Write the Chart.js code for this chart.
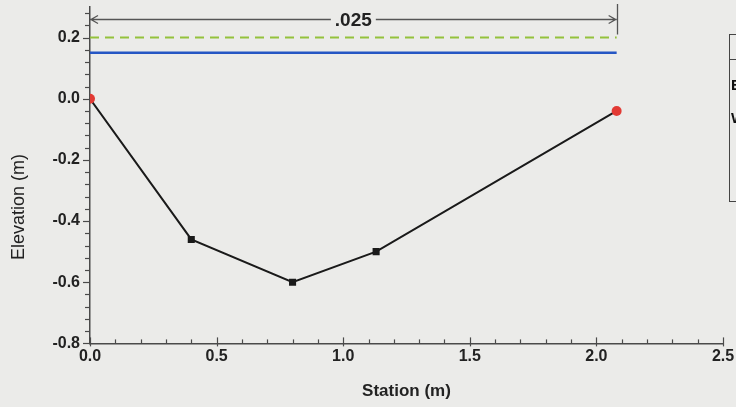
<!DOCTYPE html>
<html>
<head>
<meta charset="utf-8">
<script src="https://cdn.jsdelivr.net/npm/chart.js@4"></script>
<style>
  html, body { margin: 0; padding: 0; background: #ebebe9; overflow: hidden; }
  #wrap { position: relative; width: 736px; height: 407px; }
  #legendBox {
    position: absolute; left: 729px; top: 34px; width: 120px; height: 168px;
    border: 1px solid #444; box-sizing: border-box;
    font: bold 15px "Liberation Sans", Arial, sans-serif; color: #111;
  }
  #legendBox .head { height: 24px; border-bottom: 1px solid #444; }
  #legendBox .row { padding-left: 1px; height: 33px; line-height: 33px; }
</style>
</head>
<body>
<div id="wrap">
  <canvas id="chart" width="736" height="407"></canvas>
  <div id="legendBox">
    <div class="head"></div>
    <div class="row" style="margin-top:8px">EGL</div>
    <div class="row">WS</div>
  </div>
</div>
<script>
(function () {
    // cross-section profile
    const stations = [0, 0.4, 0.8, 1.13, 2.08];
    const elevations = [0, -0.46, -0.6, -0.5, -0.04];
    // energy grade line and water surface
    const eglLevel = 0.2;
    const wsLevel = 0.15;
    const bankStations = [0, 2.08];
    // Manning's n annotation
    const nLabel = '.025';
    const nLevel = 0.26;
    const xTicks = [0, 0.5, 1.0, 1.5, 2.0, 2.5];
    const yTicks = [-0.8, -0.6, -0.4, -0.2, 0.0, 0.2];

    const font = '"Liberation Sans", Arial, sans-serif';
    const axisColor = '#4a4a4a';

    const minorTicks = {
        id: 'minorTicks',
        afterDraw(chart) {
            const { ctx, scales: { x, y } } = chart;
            ctx.save();
            ctx.strokeStyle = axisColor;
            ctx.lineWidth = 1.2;
            // y ticks, outward
            for (let v = -0.8; v <= 0.31; v += 0.04) {
                const py = Math.round(y.getPixelForValue(v)) + 0.5;
                const major = Math.abs(Math.round(v * 5) - v * 5) < 1e-6;
                ctx.beginPath();
                ctx.moveTo(x.left - (major ? 7 : 5), py);
                ctx.lineTo(x.left, py);
                ctx.stroke();
            }
            // x ticks, inward
            for (let v = 0; v <= 2.501; v += 0.1) {
                const px = Math.round(x.getPixelForValue(v)) + 0.5;
                const major = Math.abs(Math.round(v * 2) - v * 2) < 1e-6;
                ctx.beginPath();
                ctx.moveTo(px, y.bottom - (major ? 6 : 4));
                ctx.lineTo(px, y.bottom + (major ? 3 : 0));
                ctx.stroke();
            }
            // y axis title
            ctx.fillStyle = '#222';
            ctx.font = '18px ' + font;
            ctx.textAlign = 'center';
            ctx.textBaseline = 'middle';
            ctx.translate(19, 207);
            ctx.rotate(-Math.PI / 2);
            ctx.fillText('Elevation (m)', 0, 0);
            ctx.restore();
        }
    };

    const nAnnotation = {
        id: 'nAnnotation',
        afterDatasetsDraw(chart) {
            const { ctx, scales: { x, y } } = chart;
            const x0 = x.getPixelForValue(bankStations[0]);
            const x1 = x.getPixelForValue(bankStations[1]);
            const py = Math.round(y.getPixelForValue(nLevel)) + 0.5;
            const mid = (x0 + x1) / 2;
            ctx.save();
            ctx.font = 'bold 19px ' + font;
            const tw = ctx.measureText(nLabel).width;
            ctx.strokeStyle = '#555';
            ctx.lineWidth = 1.3;
            ctx.beginPath();
            ctx.moveTo(x0, py);
            ctx.lineTo(mid - tw / 2 - 4, py);
            ctx.moveTo(mid + tw / 2 + 4, py);
            ctx.lineTo(x1, py);
            // arrow heads
            ctx.moveTo(x0 + 8, py - 4);
            ctx.lineTo(x0 + 1, py);
            ctx.lineTo(x0 + 8, py + 4);
            ctx.moveTo(x1 - 8, py - 4);
            ctx.lineTo(x1 - 1, py);
            ctx.lineTo(x1 - 8, py + 4);
            // right bank bar
            ctx.moveTo(Math.round(x1) + 0.5, y.getPixelForValue(0.31));
            ctx.lineTo(Math.round(x1) + 0.5, y.getPixelForValue(eglLevel) - 3);
            ctx.stroke();
            ctx.fillStyle = '#222';
            ctx.textAlign = 'center';
            ctx.textBaseline = 'middle';
            ctx.fillText(nLabel, mid, py + 1);
            ctx.restore();
        }
    };

    const profile = stations.map((s, i) => ({ x: s, y: elevations[i] }));
    const lastIdx = stations.length - 1;
    const isEnd = i => i === 0 || i === lastIdx;

    new Chart(document.getElementById('chart'), {
        type: 'scatter',
        data: {
            datasets: [
                {
                    label: 'EGL',
                    data: bankStations.map(s => ({ x: s, y: eglLevel })),
                    showLine: true,
                    borderColor: '#94c23c',
                    borderWidth: 2,
                    borderDash: [9, 6],
                    pointRadius: 0
                },
                {
                    label: 'WS',
                    data: bankStations.map(s => ({ x: s, y: wsLevel })),
                    showLine: true,
                    borderColor: '#2556c4',
                    borderWidth: 2.5,
                    pointRadius: 0
                },
                {
                    label: 'Ground',
                    data: profile,
                    showLine: true,
                    borderColor: '#1a1a1a',
                    borderWidth: 2,
                    pointStyle: profile.map((p, i) => isEnd(i) ? 'circle' : 'rect'),
                    pointRadius: 5,
                    pointBackgroundColor: profile.map((p, i) => isEnd(i) ? '#e23a34' : '#1a1a1a'),
                    pointBorderWidth: 0
                }
            ]
        },
        options: {
            responsive: false,
            animation: false,
            layout: { padding: { top: 7, right: 13, left: 0, bottom: 5 } },
            plugins: { legend: { display: false }, tooltip: { enabled: false } },
            scales: {
                x: {
                    type: 'linear',
                    min: 0,
                    max: 2.5,
                    afterBuildTicks: s => { s.ticks = xTicks.map(v => ({ value: v })); },
                    afterFit: s => { s.paddingRight = 0; s.paddingLeft = 0; },
                    grid: { display: true, drawOnChartArea: false, drawTicks: false },
                    border: { color: axisColor, width: 1.5 },
                    ticks: {
                        padding: 4,
                        color: '#222',
                        font: { family: font, size: 16, weight: 'bold' },
                        callback: v => v.toFixed(1)
                    },
                    title: {
                        display: true,
                        text: 'Station (m)',
                        color: '#222',
                        font: { family: font, size: 17, weight: 'bold' },
                        padding: { top: 11, bottom: 0 }
                    }
                },
                y: {
                    type: 'linear',
                    min: -0.8,
                    max: 0.3,
                    afterBuildTicks: s => { s.ticks = yTicks.map(v => ({ value: v })); },
                    afterFit: s => { s.width = 90; s.paddingTop = 0; s.paddingBottom = 0; },
                    grid: { display: true, drawOnChartArea: false, drawTicks: false },
                    border: { color: axisColor, width: 1.5 },
                    ticks: {
                        padding: 10,
                        color: '#222',
                        font: { family: font, size: 16, weight: 'bold' },
                        callback: v => v.toFixed(1)
                    }
                }
            }
        },
        plugins: [minorTicks, nAnnotation]
    });
})();
</script>
</body>
</html>
